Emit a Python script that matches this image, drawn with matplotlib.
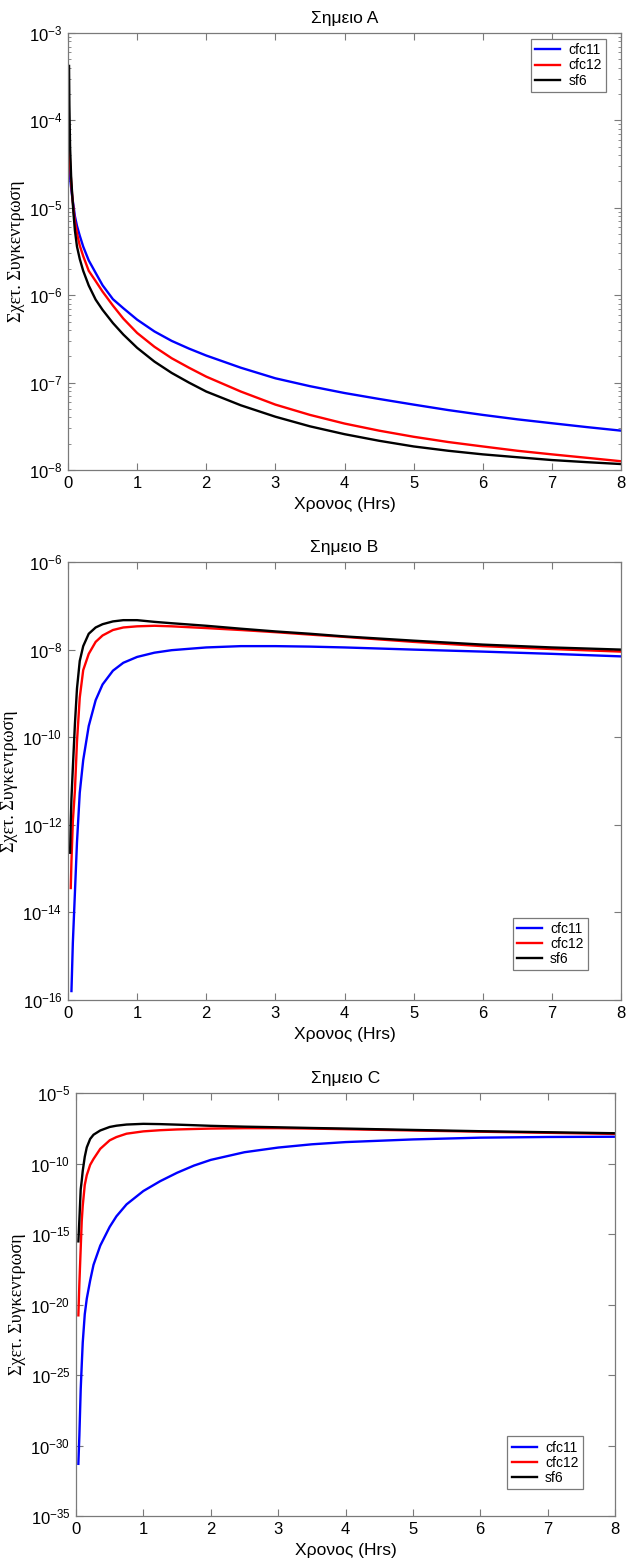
import numpy as np
import matplotlib
matplotlib.use("Agg")
import matplotlib.pyplot as plt
from matplotlib.ticker import LogLocator, NullLocator, FixedLocator

# =====================
# DATA
# =====================
labels = ["cfc11", "cfc12", "sf6"]
colors = ["#0000ff", "#ff0000", "#000000"]
xticks = [0, 1, 2, 3, 4, 5, 6, 7, 8]
nan = np.nan

# Panel A
tA = [0.015, 0.02, 0.03, 0.045, 0.06, 0.08, 0.1, 0.13, 0.17, 0.22, 0.3, 0.4, 0.5, 0.65, 0.8,
      1.0, 1.25, 1.5, 1.75, 2.0, 2.5, 3.0, 3.5, 4.0, 4.5, 5.0, 5.5, 6.0, 6.5, 7.0, 7.5, 8.0]
A_cfc11 = [3.2e-5, 2.8e-5, 2.2e-5, 1.7e-5, 1.35e-5, 1.05e-5, 8.0e-6, 6.2e-6, 4.8e-6, 3.6e-6, 2.5e-6,
           1.8e-6, 1.3e-6, 9.0e-7, 7.1e-7, 5.25e-7, 3.85e-7, 3.0e-7, 2.45e-7, 2.04e-7, 1.48e-7, 1.12e-7,
           9.1e-8, 7.6e-8, 6.5e-8, 5.6e-8, 4.85e-8, 4.27e-8, 3.8e-8, 3.43e-8, 3.1e-8, 2.82e-8]
A_cfc12 = [7.0e-5, 5.0e-5, 3.2e-5, 2.0e-5, 1.4e-5, 9.5e-6, 7.0e-6, 5.1e-6, 3.7e-6, 2.8e-6, 1.9e-6,
           1.45e-6, 1.1e-6, 7.6e-7, 5.4e-7, 3.7e-7, 2.57e-7, 1.9e-7, 1.48e-7, 1.17e-7, 7.9e-8, 5.6e-8,
           4.27e-8, 3.4e-8, 2.82e-8, 2.4e-8, 2.09e-8, 1.86e-8, 1.66e-8, 1.51e-8, 1.38e-8, 1.26e-8]
A_sf6 = [4.2e-4, 1.5e-4, 5.0e-5, 2.3e-5, 1.45e-5, 8.5e-6, 5.5e-6, 3.6e-6, 2.6e-6, 1.9e-6, 1.29e-6,
         8.9e-7, 6.8e-7, 4.8e-7, 3.55e-7, 2.5e-7, 1.74e-7, 1.29e-7, 1.0e-7, 7.9e-8, 5.5e-8, 4.07e-8,
         3.16e-8, 2.57e-8, 2.16e-8, 1.86e-8, 1.66e-8, 1.51e-8, 1.4e-8, 1.3e-8, 1.23e-8, 1.17e-8]

# Panel B
tB = [0.03, 0.04, 0.05, 0.07, 0.1, 0.13, 0.17, 0.22, 0.3, 0.4, 0.5, 0.65, 0.8, 1.0, 1.25, 1.5,
      2.0, 2.5, 3.0, 3.5, 4.0, 5.0, 6.0, 7.0, 8.0]
B_cfc11 = [nan, nan, 1.6e-16, 2.0e-15, 2.8e-14, 4.0e-13, 5.4e-12, 3.0e-11, 1.8e-10, 7.0e-10, 1.6e-9,
           3.3e-9, 5.0e-9, 6.8e-9, 8.5e-9, 9.7e-9, 1.12e-8, 1.2e-8, 1.2e-8, 1.17e-8, 1.12e-8,
           1.0e-8, 9.0e-9, 8.0e-9, 7.0e-9]
B_cfc12 = [nan, 3.6e-14, 1.5e-13, 1.2e-12, 6.0e-12, 8.0e-11, 8.0e-10, 3.4e-9, 8.0e-9, 1.5e-8, 2.1e-8,
           2.8e-8, 3.2e-8, 3.4e-8, 3.5e-8, 3.4e-8, 3.1e-8, 2.8e-8, 2.5e-8, 2.2e-8, 1.95e-8,
           1.5e-8, 1.2e-8, 1.03e-8, 9.0e-9]
B_sf6 = [2.3e-13, 1.2e-12, 4.0e-12, 2.0e-11, 2.0e-10, 1.3e-9, 5.5e-9, 1.2e-8, 2.3e-8, 3.2e-8, 3.8e-8,
         4.4e-8, 4.7e-8, 4.7e-8, 4.3e-8, 4.0e-8, 3.5e-8, 3.0e-8, 2.6e-8, 2.3e-8, 2.0e-8,
         1.6e-8, 1.3e-8, 1.12e-8, 1.0e-8]

# Panel C
tC = [0.035, 0.05, 0.07, 0.085, 0.1, 0.13, 0.16, 0.21, 0.26, 0.36, 0.5, 0.6, 0.75, 1.0, 1.25, 1.5,
      1.75, 2.0, 2.5, 3.0, 3.5, 4.0, 5.0, 6.0, 7.0, 8.0]
C_cfc11 = [5e-32, 5e-30, 1e-26, 5e-25, 2e-23, 2e-21, 2.6e-20, 5e-19, 6.5e-18, 1.5e-16, 3.2e-15, 1.8e-14,
           1.26e-13, 1.12e-12, 5.6e-12, 2.2e-11, 7.1e-11, 1.8e-10, 6.3e-10, 1.35e-9, 2.3e-9, 3.3e-9,
           5.1e-9, 6.8e-9, 7.6e-9, 7.9e-9]
C_cfc12 = [1.7e-21, 3e-19, 1e-16, 8e-15, 1e-13, 3e-12, 1.5e-11, 8e-11, 2.1e-10, 1.1e-9, 4.4e-9, 7.5e-9,
           1.3e-8, 1.9e-8, 2.3e-8, 2.6e-8, 2.8e-8, 3.0e-8, 3.2e-8, 3.2e-8, 3.0e-8, 2.7e-8,
           2.2e-8, 1.8e-8, 1.5e-8, 1.25e-8]
C_sf6 = [3e-16, 1e-14, 1.5e-12, 6e-12, 3e-11, 3e-10, 1.4e-9, 5.5e-9, 1.1e-8, 2.2e-8, 3.9e-8, 4.8e-8,
         5.8e-8, 6.5e-8, 6.2e-8, 5.7e-8, 5.2e-8, 4.7e-8, 4.1e-8, 3.7e-8, 3.3e-8, 3.0e-8,
         2.4e-8, 1.95e-8, 1.65e-8, 1.4e-8]

# =====================
# STYLE
# =====================
plt.rcParams['font.family'] = ['Liberation Sans', 'DejaVu Sans']
plt.rcParams['mathtext.default'] = 'regular'
plt.rcParams['axes.unicode_minus'] = False
GRAY = "#7a7a7a"

fig = plt.figure(figsize=(6.28, 15.61), dpi=100)
W, H = 628.0, 1561.0

def rect(x0, y0, x1, y1):
    # pixel box (top-left origin) -> figure fraction
    return [x0 / W, 1 - y1 / H, (x1 - x0) / W, (y1 - y0) / H]

panels = [
    ("Σημειο A", rect(68, 33, 621, 470), tA, [A_cfc11, A_cfc12, A_sf6], (1e-8, 1e-3),
     list(10.0 ** np.arange(-8, -2)), True, dict(loc="upper right", bbox_to_anchor=(0.973, 0.986))),
    ("Σημειο B", rect(68, 562, 621, 1000), tB, [B_cfc11, B_cfc12, B_sf6], (1e-16, 1e-6),
     list(10.0 ** np.arange(-16, -5, 2)), False, dict(loc="lower right", bbox_to_anchor=(0.94, 0.068))),
    ("Σημειο C", rect(76, 1093, 615, 1516), tC, [C_cfc11, C_cfc12, C_sf6], (1e-35, 1e-5),
     list(10.0 ** np.arange(-35, -4, 5)), False, dict(loc="lower right", bbox_to_anchor=(0.94, 0.064))),
]

for title, box, t, series, ylim, yticks, minor, legkw in panels:
    ax = fig.add_axes(box)
    for y, c, lab in zip(series, colors, labels):
        ax.plot(t, y, color=c, lw=1.7, label=lab)
    ax.set_yscale("log")
    ax.set_xlim(0, 8)
    ax.set_ylim(*ylim)
    ax.set_xticks(xticks)
    ax.yaxis.set_major_locator(FixedLocator(yticks))
    if minor:
        ax.yaxis.set_minor_locator(LogLocator(base=10, subs=np.arange(2, 10), numticks=20))
    else:
        ax.yaxis.set_minor_locator(NullLocator())
    ax.tick_params(which="both", direction="in", top=True, right=True, color=GRAY,
                   labelsize=12, pad=4)
    ax.tick_params(which="major", length=5)
    ax.tick_params(which="minor", length=2.5)
    for s in ax.spines.values():
        s.set_color(GRAY)
        s.set_linewidth(0.9)
    ax.set_title(title, fontsize=12.5, pad=7)
    ax.set_xlabel("Χρονος (Hrs)", fontsize=12.5, labelpad=5)
    ax.set_ylabel("Σχετ. Συγκεντρωση", fontsize=13, labelpad=3, family=['Liberation Serif'])
    leg = ax.legend(fontsize=10, frameon=True, fancybox=False, framealpha=1,
                    handlelength=1.8, handletextpad=0.6, labelspacing=0.08,
                    borderpad=0.3, borderaxespad=0, **legkw)
    leg.get_frame().set_edgecolor(GRAY)
    leg.get_frame().set_linewidth(0.9)

fig.savefig("out.png", dpi=100)
